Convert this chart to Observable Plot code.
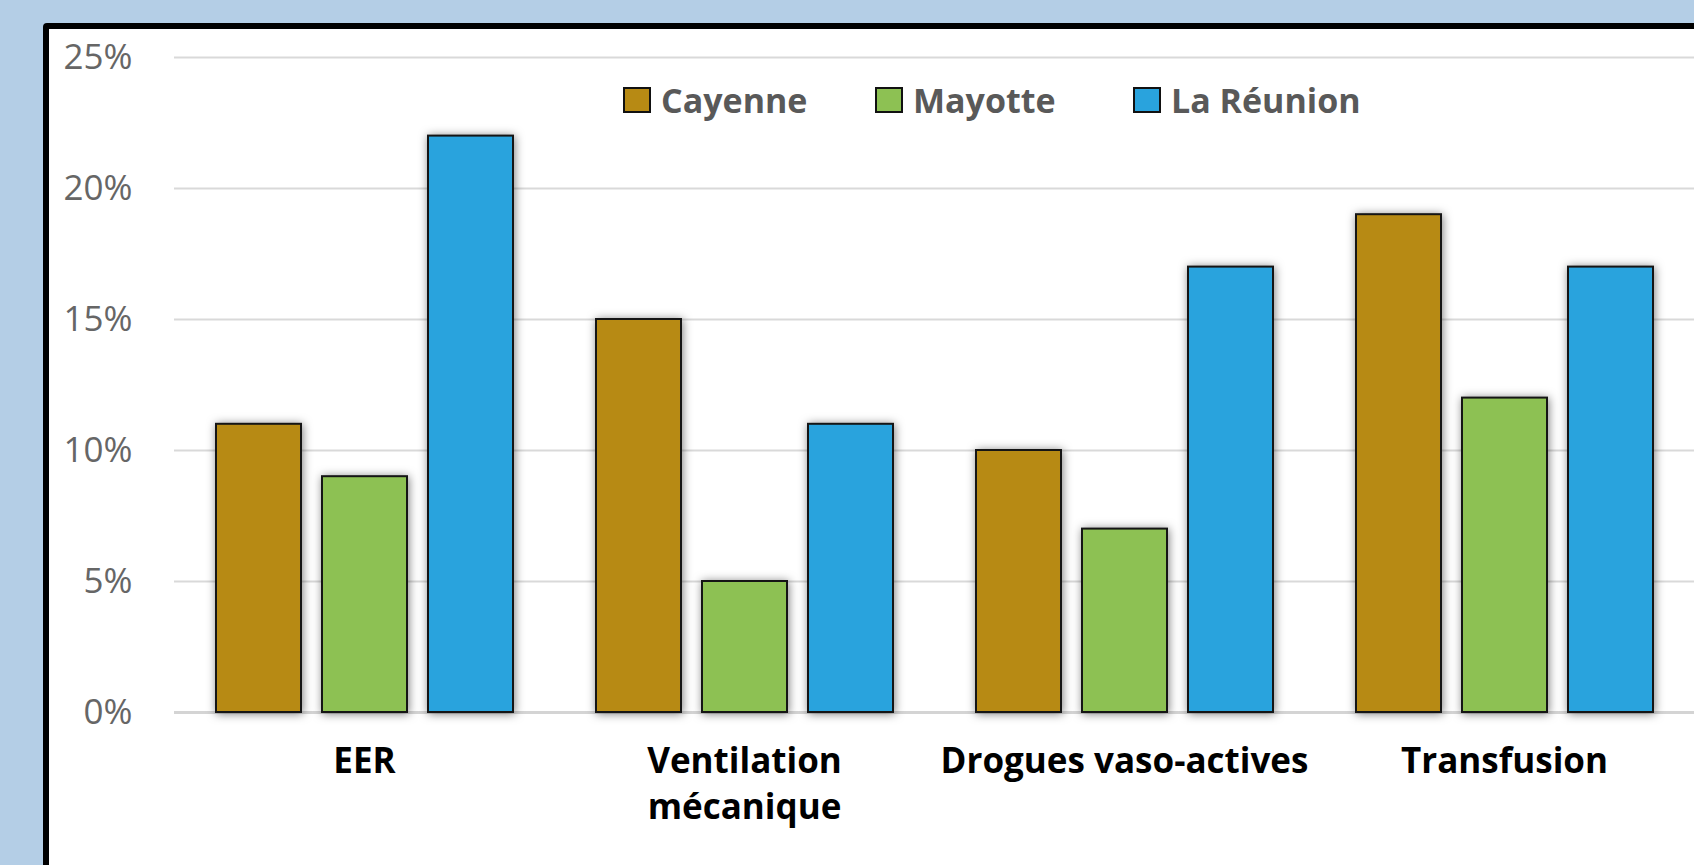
<!DOCTYPE html>
<html>
<head>
<meta charset="utf-8">
<script src="https://cdn.jsdelivr.net/npm/d3@7"></script>
<script src="https://cdn.jsdelivr.net/npm/@observablehq/plot@0.6"></script>
<style>
  html, body { margin: 0; padding: 0; width: 1694px; height: 865px; overflow: hidden; background: #b4cee6; }
  #panel { position: absolute; left: 43px; top: 23px; width: 1700px; height: 900px; background: #fff;
           border: 6px solid #000; border-radius: 4px; box-sizing: border-box; }
  #chart { position: absolute; left: 0; top: 0; }
  #chart svg g[aria-label="bar"] rect { filter: drop-shadow(1px 1px 5px rgba(0,0,0,0.5)); }
  .leg { position: absolute; top: 83px; display: flex; align-items: center; font-family: "Open Sans", sans-serif;
         font-weight: bold; font-size: 34px; color: #595959; line-height: 1; }
  .sw { width: 24px; height: 22px; border: 2px solid #111; margin-right: 10px; }
</style>
</head>
<body>
<div id="panel"></div>
<div id="chart"></div>
<div id="legend"></div>
<script>
const categories = ["EER", "Ventilation mécanique", "Drogues vaso-actives", "Transfusion"];
const categoryLabels = ["EER", "Ventilation\nmécanique", "Drogues vaso-actives", "Transfusion"];
const series = ["Cayenne", "Mayotte", "La Réunion"];
const cayenne = [11, 15, 10, 19];
const mayotte = [9, 5, 7, 12];
const reunion = [22, 11, 17, 17];
const colors = ["#b78a14", "#8dc153", "#29a3dd"];
const yTicks = [0, 5, 10, 15, 20, 25];

const valuesBySeries = [cayenne, mayotte, reunion];
const data = [];
categories.forEach((c, i) => {
  series.forEach((s, j) => data.push({category: c, series: s, value: valuesBySeries[j][i]}));
});

const chart = Plot.plot({
  width: 1694,
  height: 865,
  marginLeft: 174,
  marginRight: 0,
  marginTop: 57,
  marginBottom: 153,
  style: {background: "transparent", fontFamily: "'Open Sans', sans-serif", overflow: "visible"},
  fx: {domain: categories, padding: 0, label: null},
  x: {domain: series, paddingInner: 0.2, paddingOuter: 0.39, axis: null},
  y: {domain: [0, 25], label: null},
  color: {domain: series, range: colors},
  marks: [
    Plot.ruleY(yTicks.filter(d => d > 0), {stroke: "#d9d9d9", strokeWidth: 2}),
    Plot.ruleY([0], {stroke: "#d4d4d4", strokeWidth: 3}),
    Plot.barY(data, {fx: "category", x: "series", y: "value", fill: "series", stroke: "#151515", strokeWidth: 2}),
    Plot.axisY({ticks: yTicks, tickFormat: d => d + "%", tickSize: 0, tickPadding: 42, fontSize: 35,
                color: "#666666", label: null}),
    Plot.axisFx({anchor: "bottom", tickSize: 0, tickPadding: 27, fontSize: 35, fontWeight: "bold",
                 lineHeight: 1.33, color: "#000",
                 tickFormat: d => categoryLabels[categories.indexOf(d)], label: null})
  ]
});
document.getElementById("chart").appendChild(chart);

const legendLefts = [623, 875, 1133];
const legend = document.getElementById("legend");
series.forEach((s, i) => {
  const item = document.createElement("div");
  item.className = "leg";
  item.style.left = legendLefts[i] + "px";
  const sw = document.createElement("div");
  sw.className = "sw";
  sw.style.background = colors[i];
  const t = document.createElement("span");
  t.textContent = s;
  item.appendChild(sw);
  item.appendChild(t);
  legend.appendChild(item);
});
</script>
</body>
</html>
